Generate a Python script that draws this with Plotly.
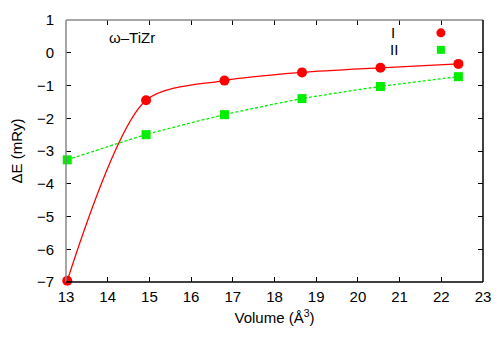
import plotly.graph_objects as go

volume = [13.03, 14.92, 16.80, 18.66, 20.54, 22.41]
energy_I = [-6.96, -1.45, -0.85, -0.60, -0.46, -0.34]
energy_II = [-3.27, -2.50, -1.89, -1.40, -1.03, -0.73]
x_ticks = list(range(13, 24))
y_ticks = list(range(-7, 2))

FONT = "Liberation Sans, Arial, sans-serif"
RED = "#ff0000"
GREEN = "#00ee00"

fig = go.Figure()
fig.add_trace(go.Scatter(
    x=volume, y=energy_II, mode="lines+markers",
    line=dict(color=GREEN, width=1.3, dash="3px,2px", shape="spline", smoothing=0.6),
    marker=dict(symbol="square", size=9, color=GREEN),
    showlegend=False, cliponaxis=False,
))
fig.add_trace(go.Scatter(
    x=volume, y=energy_I, mode="lines+markers",
    line=dict(color=RED, width=1.3, shape="spline", smoothing=0.8),
    marker=dict(symbol="circle", size=10, color=RED),
    showlegend=False, cliponaxis=False,
))

axis_common = dict(
    showline=False, zeroline=False, showgrid=False,
    ticks="inside", ticklen=5, tickwidth=1, tickcolor="#000000",
    mirror="ticks", automargin=False,
    tickfont=dict(family=FONT, size=15, color="#000000"),
)
fig.update_xaxes(range=[13, 23], tickvals=x_ticks, ticklabelstandoff=4,
                 title=dict(text="Volume (Å<sup>3</sup>)", font=dict(family=FONT, size=15, color="#000"),
                            standoff=8),
                 **axis_common)
fig.update_yaxes(range=[-7, 1], tickvals=y_ticks,
                 ticktext=[("\u2212" + str(-v)) if v < 0 else str(v) for v in y_ticks],
                 ticklabelstandoff=11,
                 title=dict(text="\u0394E (mRy)", font=dict(family=FONT, size=15, color="#000"),
                            standoff=18),
                 **axis_common)

# frame: top/left grey, bottom/right black
fig.add_shape(type="line", xref="paper", yref="paper", x0=0, x1=1, y0=1, y1=1,
              line=dict(color="#888888", width=1.5))
fig.add_shape(type="line", xref="paper", yref="paper", x0=0, x1=0, y0=0, y1=1,
              line=dict(color="#888888", width=1.5))
fig.add_shape(type="line", xref="paper", yref="paper", x0=0, x1=1, y0=0, y1=0,
              line=dict(color="#000000", width=1.5))
fig.add_shape(type="line", xref="paper", yref="paper", x0=1, x1=1, y0=0, y1=1,
              line=dict(color="#000000", width=1.5))

# label
fig.add_annotation(text="\u03c9\u2013TiZr", xref="paper", yref="paper", x=0.098, y=0.935,
                   xanchor="left", yanchor="middle", showarrow=False,
                   font=dict(family=FONT, size=15, color="#000"))

# key
fig.add_annotation(text="I", xref="paper", yref="paper", x=0.784, y=0.951,
                   xanchor="center", yanchor="middle", showarrow=False,
                   font=dict(family=FONT, size=15, color="#000"))
fig.add_annotation(text="II", xref="paper", yref="paper", x=0.786, y=0.886,
                   xanchor="center", yanchor="middle", showarrow=False,
                   font=dict(family=FONT, size=15, color="#000"))
fig.add_shape(type="circle", xref="paper", yref="paper", xsizemode="pixel", ysizemode="pixel",
              xanchor=0.899, yanchor=0.951, x0=-4.5, x1=4.5, y0=-4.5, y1=4.5,
              fillcolor=RED, line=dict(width=0))
fig.add_shape(type="rect", xref="paper", yref="paper", xsizemode="pixel", ysizemode="pixel",
              xanchor=0.899, yanchor=0.886, x0=-4, x1=4, y0=-4, y1=4,
              fillcolor=GREEN, line=dict(width=0))

fig.update_layout(
    width=492, height=342,
    margin=dict(l=58, r=17, t=11.5, b=67.5),
    paper_bgcolor="white", plot_bgcolor="white",
    font=dict(family=FONT, color="#000"),
)
fig.write_html("out.html")
